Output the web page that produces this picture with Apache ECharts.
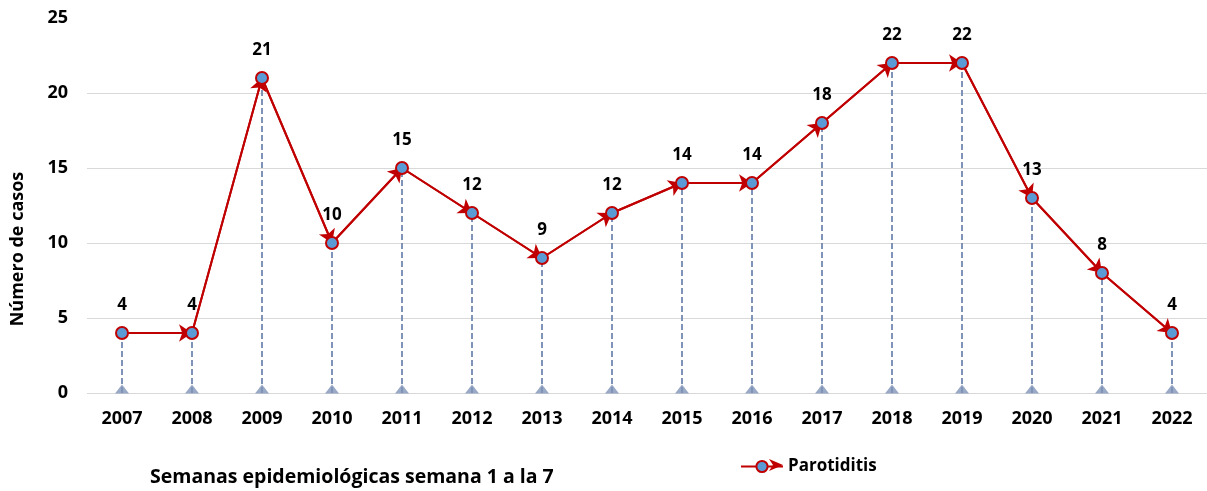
<!DOCTYPE html>
<html>
<head>
<meta charset="utf-8">
<script src="https://cdn.jsdelivr.net/npm/echarts@6/dist/echarts.min.js"></script>
<style>
  html, body { margin: 0; padding: 0; background: #fff; }
  #chart { width: 1207px; height: 491px; }
</style>
</head>
<body>
<div id="chart"></div>
<script>
const years = ['2007', '2008', '2009', '2010', '2011', '2012', '2013', '2014',
               '2015', '2016', '2017', '2018', '2019', '2020', '2021', '2022'];
const casos = [4, 4, 21, 10, 15, 12, 9, 12, 14, 14, 18, 22, 22, 13, 8, 4];
const yTicks = [0, 5, 10, 15, 20, 25];

const FONT = '"Open Sans", Lato, sans-serif';
const RED = '#c00000';
const BLUE = '#5b9bd5';
const DROP = '#7f93b8';

// segments with arrow heads, built from the data
const segments = casos.slice(1).map((v, i) => ({
    coords: [[i, casos[i]], [i + 1, v]]
}));
// vertical dashed drop lines
const drops = casos.map((v, i) => ({ coords: [[i, 0], [i, v]] }));

const chart = echarts.init(document.getElementById('chart'));

chart.setOption({
    animation: false,
    grid: { left: 87, right: -5, top: 18, bottom: 98 },
    legend: {
        left: 735,
        top: 453,
        itemWidth: 42,
        itemHeight: 14,
        itemGap: 6,
        textStyle: { fontFamily: FONT, fontWeight: 'bold', fontSize: 17, color: '#000' },
        data: ['Parotiditis']
    },
    xAxis: {
        type: 'category',
        data: years,
        axisLine: { show: false },
        axisTick: { show: false },
        axisLabel: { fontFamily: FONT, fontWeight: 'bold', fontSize: 18, color: '#000', margin: 17 }
    },
    yAxis: {
        type: 'value',
        min: yTicks[0],
        max: yTicks[yTicks.length - 1],
        interval: 5,
        axisLine: { show: false },
        axisTick: { show: false },
        axisLabel: { fontFamily: FONT, fontWeight: 'bold', fontSize: 18, color: '#000', margin: 19 },
        splitLine: {
            lineStyle: { color: '#d9d9d9', width: 1 },
            showMaxLine: false
        }
    },
    graphic: [
        {
            type: 'text',
            left: 150,
            top: 467,
            style: {
                text: 'Semanas epidemiológicas semana 1 a la 7',
                font: 'bold 19.5px ' + FONT,
                fill: '#000'
            }
        },
        {
            // y axis title, sits a bit below the middle like the original
            type: 'text',
            x: 18,
            y: 249,
            rotation: Math.PI / 2,
            style: {
                text: 'Número de casos',
                font: 'bold 18px ' + FONT,
                fill: '#000',
                align: 'center',
                verticalAlign: 'middle'
            }
        },
        {
            // arrow head of the legend symbol
            type: 'polygon',
            shape: { points: [[769, 459], [783, 465], [769, 471], [773, 465]] },
            style: { fill: RED },
            z: 100
        }
    ],
    series: [
        {
            name: 'drops',
            type: 'lines',
            coordinateSystem: 'cartesian2d',
            symbol: 'none',
            lineStyle: { color: DROP, width: 2, type: [6, 3], opacity: 1 },
            data: drops,
            z: 1
        },
        {
            name: 'base',
            type: 'scatter',
            data: casos.map(() => 0),
            symbol: 'triangle',
            symbolSize: [14, 9],
            symbolOffset: [0, -4],
            itemStyle: { color: DROP },
            z: 2
        },
        {
            name: 'arrows',
            type: 'lines',
            coordinateSystem: 'cartesian2d',
            symbol: ['none', 'arrow'],
            symbolSize: 13,
            lineStyle: { color: RED, width: 2, opacity: 1 },
            data: segments,
            z: 3
        },
        {
            name: 'Parotiditis',
            type: 'line',
            data: casos,
            symbol: 'circle',
            symbolSize: 12,
            showAllSymbol: true,
            lineStyle: { color: RED, width: 2 },
            itemStyle: { color: BLUE, borderColor: RED, borderWidth: 2 },
            label: {
                show: true,
                position: 'top',
                distance: 12,
                fontFamily: FONT,
                fontWeight: 'bold',
                fontSize: 17,
                color: '#000'
            },
            z: 4
        }
    ]
});
</script>
</body>
</html>
